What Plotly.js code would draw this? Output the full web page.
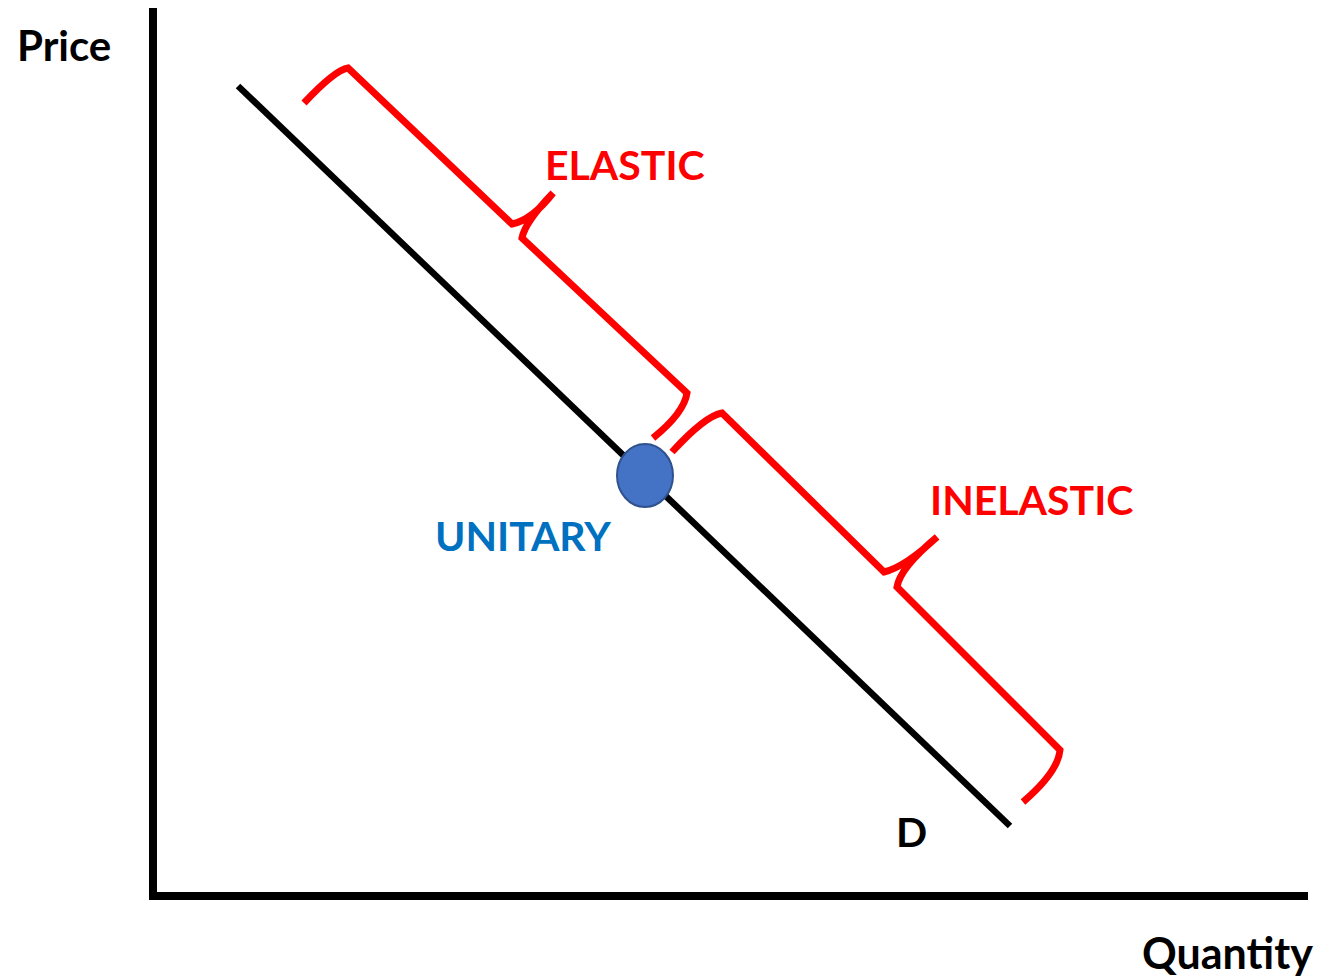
<!DOCTYPE html>
<html>
<head>
<meta charset="utf-8">
<script src="https://cdn.plot.ly/plotly-3.0.1.min.js"></script>
<style>html,body{margin:0;padding:0;background:#fff;}#chart{width:1320px;height:980px;}</style>
</head>
<body>
<div id="chart"></div>
<script>
// Demand curve (Quantity, Price) in chart units
const demandQ = [8.1, 85.3];
const demandP = [80.6, 6.6];

// Unitary elasticity point
const unitaryQ = 48.8;
const unitaryP = 41.65;

// Brace key points: start, ctrl, corner, cusp, ctrl, tip, ctrl, resume, corner, ctrl, end
const elasticBraceQ = [14.7, 17.8, 19.1, 35.5, 37.5, 39.6, 36.8, 36.5, 53.0, 52.7, 49.6];
const elasticBraceP = [78.9, 82.2, 82.4, 66.8, 67.2, 69.9, 67.0, 65.4, 49.9, 47.9, 45.4];
const inelasticBraceQ = [51.5, 54.8, 56.5, 72.7, 74.8, 78.0, 74.3, 74.0, 90.3, 90.1, 86.6];
const inelasticBraceP = [44.0, 47.6, 47.9, 32.0, 32.5, 35.5, 32.4, 30.5, 14.2, 12.0, 9.0];
const braceCommands = ['M', 'Q', '', 'L', 'Q', '', 'Q', '', 'L', 'Q', ''];

// Text labels
const axisLabels = ['Price', 'Quantity'];
const regionLabels = ['ELASTIC', 'INELASTIC', 'UNITARY', 'D'];

function bracePath(qs, ps) {
  let s = '';
  for (let i = 0; i < qs.length; i++) {
    s += (braceCommands[i] ? braceCommands[i] : ' ') + qs[i] + ',' + ps[i] + ' ';
  }
  return s.trim();
}

const FONT = 'Lato, "Open Sans", "DejaVu Sans", sans-serif';
const RED = '#FF0000';

const traces = [{
  x: demandQ, y: demandP, type: 'scatter', mode: 'lines',
  line: {color: '#000000', width: 6.5}, hoverinfo: 'skip', showlegend: false
}];

const layout = {
  width: 1320, height: 980, autosize: false,
  margin: {l: 157, r: 12, t: 8, b: 88, pad: 0},
  paper_bgcolor: '#ffffff', plot_bgcolor: '#ffffff',
  showlegend: false,
  xaxis: {range: [0, 115.1], showline: true, linewidth: 8, linecolor: '#000000',
          showgrid: false, zeroline: false, showticklabels: false, ticks: '', fixedrange: true},
  yaxis: {range: [0, 88.4], showline: true, linewidth: 8, linecolor: '#000000',
          showgrid: false, zeroline: false, showticklabels: false, ticks: '', fixedrange: true},
  shapes: [
    {type: 'path', xref: 'x', yref: 'y', path: bracePath(elasticBraceQ, elasticBraceP),
     line: {color: RED, width: 7}},
    {type: 'path', xref: 'x', yref: 'y', path: bracePath(inelasticBraceQ, inelasticBraceP),
     line: {color: RED, width: 7}},
    {type: 'circle', xref: 'x', yref: 'y',
     xsizemode: 'pixel', xanchor: unitaryQ, x0: -28, x1: 28,
     ysizemode: 'pixel', yanchor: unitaryP, y0: -31.5, y1: 31.5,
     fillcolor: '#4472C4', line: {color: '#2F528F', width: 2}}
  ],
  annotations: [
    {text: '<b>' + axisLabels[0] + '</b>', xref: 'paper', yref: 'paper', x: -0.0808, y: 0.958,
     xanchor: 'center', yanchor: 'middle', showarrow: false, font: {family: FONT, size: 42, color: '#000000'}},
    {text: '<b>' + axisLabels[1] + '</b>', xref: 'paper', yref: 'paper', x: 0.9297, y: -0.0690,
     xanchor: 'center', yanchor: 'middle', showarrow: false, font: {family: FONT, size: 43, color: '#000000'}},
    {text: '<b>' + regionLabels[0] + '</b>', xref: 'x', yref: 'y', x: 46.8, y: 72.8,
     xanchor: 'center', yanchor: 'middle', showarrow: false, font: {family: FONT, size: 41, color: RED}},
    {text: '<b>' + regionLabels[1] + '</b>', xref: 'x', yref: 'y', x: 87.4, y: 39.3,
     xanchor: 'center', yanchor: 'middle', showarrow: false, font: {family: FONT, size: 41, color: RED}},
    {text: '<b>' + regionLabels[2] + '</b>', xref: 'x', yref: 'y', x: 36.6, y: 35.7,
     xanchor: 'center', yanchor: 'middle', showarrow: false, font: {family: FONT, size: 41, color: '#0070C0'}},
    {text: '<b>' + regionLabels[3] + '</b>', xref: 'x', yref: 'y', x: 75.4, y: 6.1,
     xanchor: 'center', yanchor: 'middle', showarrow: false, font: {family: FONT, size: 41, color: '#000000'}}
  ]
};

Plotly.newPlot('chart', traces, layout, {displayModeBar: false, staticPlot: true});
</script>
</body>
</html>
